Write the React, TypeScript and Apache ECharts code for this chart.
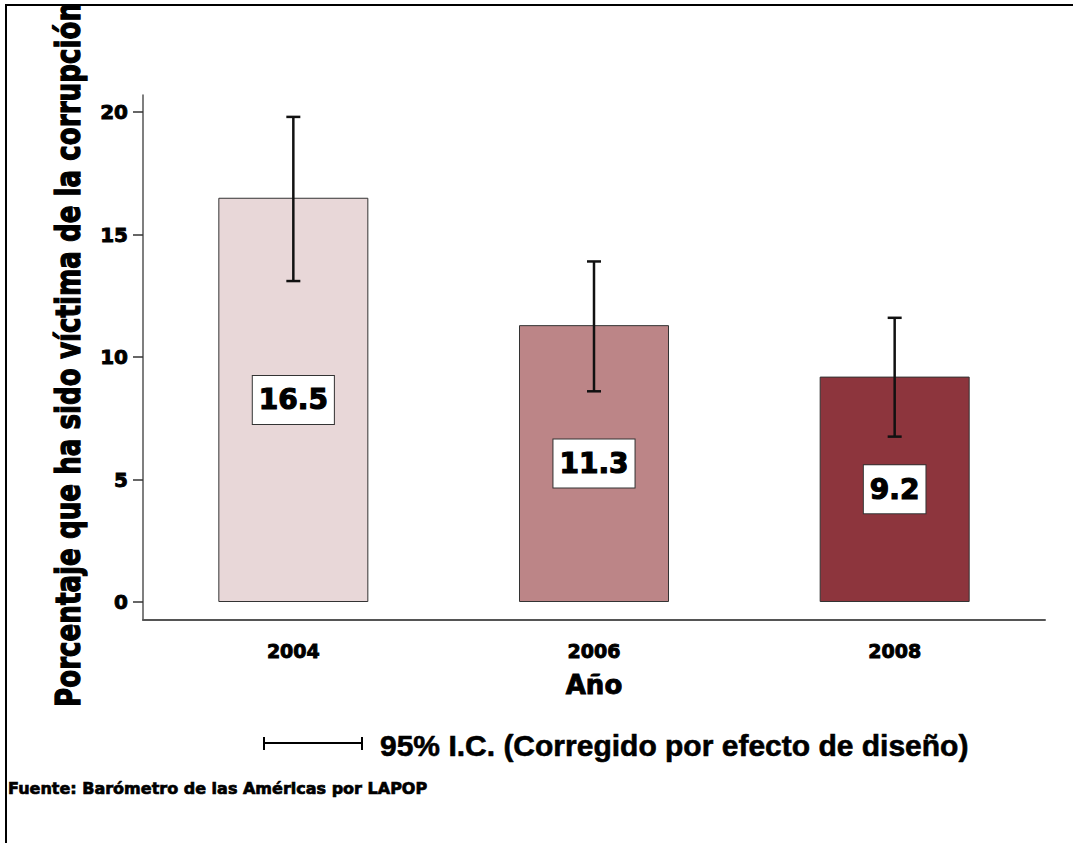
import React, { useEffect, useRef } from "react";
import * as echarts from "echarts";

const years = ["2004", "2006", "2008"];
const values = [16.5, 11.3, 9.2];
const ciLow = [13.1, 8.6, 6.75];
const ciHigh = [19.8, 13.9, 11.6];
const barColors = ["#E8D7D8", "#BC8587", "#8D353D"];
const yTicks = [0, 5, 10, 15, 20];

const HEAVY = "'DejaVu Sans', 'Noto Sans', sans-serif";
const PLAIN = "'Liberation Sans', Arial, sans-serif";

export default function App() {
  const ref = useRef<HTMLDivElement>(null);
  useEffect(() => {
    if (!ref.current) return;
    const chart = echarts.init(ref.current, undefined, { renderer: "svg" });
    const heavyStroke = { textBorderColor: "#000", textBorderWidth: 0.9 };
    const option: any = {
      animation: false,
      backgroundColor: "#ffffff",
      grid: { left: 143, top: 95, right: 28, bottom: 223, containLabel: false },
      xAxis: {
        type: "category",
        data: years,
        boundaryGap: true,
        name: "Año",
        nameLocation: "middle",
        nameGap: 52,
        nameTextStyle: { fontFamily: HEAVY, fontWeight: "bold", fontSize: 26, color: "#000", ...heavyStroke },
        axisLine: { onZero: false, lineStyle: { color: "#555", width: 2 } },
        axisTick: { alignWithLabel: true, length: 11, lineStyle: { color: "#333", width: 1.5 } },
        axisLabel: { margin: 21, fontFamily: HEAVY, fontWeight: "bold", fontSize: 19, color: "#000", ...heavyStroke },
        splitLine: { show: false },
      },
      yAxis: {
        type: "value",
        min: -18 / 24.5,
        max: 507 / 24.5,
        axisLine: { show: true, lineStyle: { color: "#555", width: 1.5 } },
        axisTick: { show: true, length: 10, customValues: yTicks, lineStyle: { color: "#333", width: 1.5 } },
        axisLabel: { margin: 15, customValues: yTicks, fontFamily: HEAVY, fontWeight: "bold", fontSize: 20, color: "#000", ...heavyStroke },
        splitLine: { show: false },
      },
      series: [
        {
          type: "bar",
          barWidth: 150,
          data: values.map((v, i) => ({
            value: v,
            itemStyle: { color: barColors[i] },
          })),
          itemStyle: { borderColor: "#333", borderWidth: 1 },
          label: {
            show: true,
            position: "inside",
            formatter: (p: any) => p.value.toFixed(1),
            fontFamily: HEAVY,
            fontWeight: "bold",
            fontSize: 28,
            lineHeight: 28,
            color: "#000",
            textBorderColor: "#000",
            textBorderWidth: 1.2,
            backgroundColor: "#fff",
            borderColor: "#333",
            borderWidth: 1,
            padding: [10, 6, 10, 6],
          },
          z: 2,
        },
        {
          type: "custom",
          data: years.map((_, i) => [i, ciLow[i], ciHigh[i]]),
          encode: { x: 0, y: [1, 2] },
          z: 3,
          renderItem: (params: any, api: any) => {
            const x = api.value(0);
            const pLow = api.coord([x, api.value(1)]);
            const pHigh = api.coord([x, api.value(2)]);
            const hw = 7;
            const st = { stroke: "#111", lineWidth: 2.5 };
            return {
              type: "group",
              children: [
                { type: "line", shape: { x1: pLow[0], y1: pLow[1], x2: pHigh[0], y2: pHigh[1] }, style: st },
                { type: "line", shape: { x1: pLow[0] - hw, y1: pLow[1], x2: pLow[0] + hw, y2: pLow[1] }, style: st },
                { type: "line", shape: { x1: pHigh[0] - hw, y1: pHigh[1], x2: pHigh[0] + hw, y2: pHigh[1] }, style: st },
              ],
            };
          },
        },
      ],
      graphic: [
        { type: "line", shape: { x1: 5, y1: 5, x2: 1073, y2: 5 }, style: { stroke: "#000", lineWidth: 2 } },
        { type: "line", shape: { x1: 6, y1: 5, x2: 6, y2: 843 }, style: { stroke: "#000", lineWidth: 2 } },
        {
          type: "text",
          x: 68,
          y: 355,
          rotation: Math.PI / 2,
          scaleX: 0.77,
          style: {
            text: "Porcentaje que ha sido víctima de la corrupción",
            fontFamily: HEAVY,
            fontWeight: "bold",
            fontSize: 34,
            fill: "#000",
            stroke: "#000",
            lineWidth: 1.3,
            textAlign: "center",
            textVerticalAlign: "middle",
          },
        },
        { type: "line", shape: { x1: 263, y1: 743, x2: 363, y2: 743 }, style: { stroke: "#000", lineWidth: 2 } },
        { type: "line", shape: { x1: 264, y1: 737, x2: 264, y2: 750 }, style: { stroke: "#000", lineWidth: 2 } },
        { type: "line", shape: { x1: 362, y1: 737, x2: 362, y2: 750 }, style: { stroke: "#000", lineWidth: 2 } },
        {
          type: "text",
          x: 380,
          y: 745,
          style: {
            text: "95% I.C. (Corregido por efecto de diseño)",
            fontFamily: PLAIN,
            fontWeight: "bold",
            fontSize: 30,
            fill: "#000",
            stroke: "#000",
            lineWidth: 0.6,
            textAlign: "left",
            textVerticalAlign: "middle",
          },
        },
        {
          type: "text",
          x: 8,
          y: 788,
          style: {
            text: "Fuente: Barómetro de las Américas por LAPOP",
            fontFamily: HEAVY,
            fontWeight: "bold",
            fontSize: 16,
            fill: "#000",
            stroke: "#000",
            lineWidth: 0.7,
            textAlign: "left",
            textVerticalAlign: "middle",
          },
        },
      ],
    };
    chart.setOption(option);
    return () => chart.dispose();
  }, []);
  return (
    <div
      ref={ref}
      style={{ position: "fixed", left: 0, top: 0, width: 1073, height: 843, background: "#fff" }}
    />
  );
}
